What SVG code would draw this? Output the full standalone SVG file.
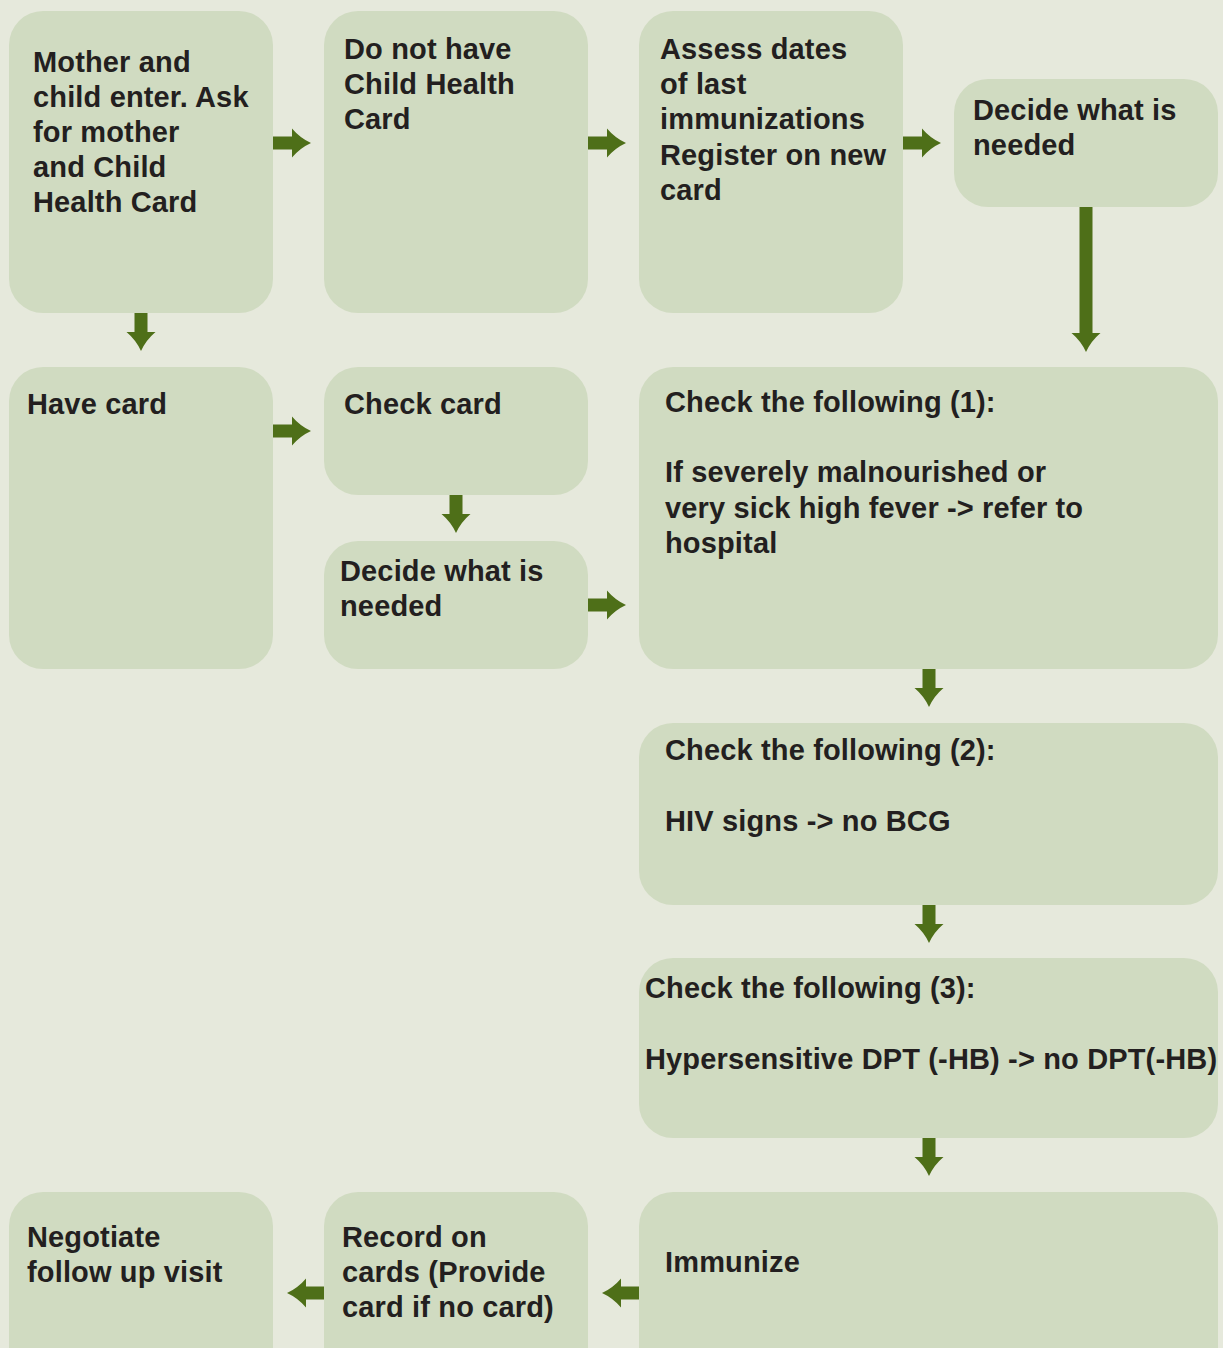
<svg xmlns="http://www.w3.org/2000/svg" width="1223" height="1348" viewBox="0 0 1223 1348">
<defs>
<style>
.box{fill:#d0dbc1;}
.t{font-family:"Liberation Sans",Arial,sans-serif;font-weight:bold;font-size:29px;letter-spacing:0.15px;fill:#231f20;}
.ar{fill:#4e6f18;}
</style>
<path id="a38" d="M0,-6.5 H19 V-14.5 Q27,-5 38,0 Q27,5 19,14.5 V6.5 H0 Z"/>
</defs>
<rect width="1223" height="1348" fill="#e6e9dc"/>
<g id="connectors" class="ar">
<use href="#a38" transform="translate(273,143)"/>
<use href="#a38" transform="translate(588,143)"/>
<use href="#a38" transform="translate(903,143)"/>
<use href="#a38" transform="translate(141,313) rotate(90)"/>
<path d="M0,-6.5 H126 V-14.5 Q134,-5 145,0 Q134,5 126,14.5 V6.5 H0 Z" transform="translate(1086,207) rotate(90)"/>
<use href="#a38" transform="translate(273,431)"/>
<use href="#a38" transform="translate(456,495) rotate(90)"/>
<use href="#a38" transform="translate(588,605)"/>
<use href="#a38" transform="translate(929,669) rotate(90)"/>
<use href="#a38" transform="translate(929,905) rotate(90)"/>
<use href="#a38" transform="translate(929,1138) rotate(90)"/>
<use href="#a38" transform="translate(640,1293) rotate(180)"/>
<use href="#a38" transform="translate(325,1293) rotate(180)"/>
</g>
<g id="n1"><rect class="box" x="9" y="11" width="264" height="302" rx="34"/>
<text class="t" x="33" y="72">Mother and</text><text class="t" x="33" y="107">child enter. Ask</text><text class="t" x="33" y="142">for mother</text><text class="t" x="33" y="177">and Child</text><text class="t" x="33" y="212">Health Card</text></g>
<g id="n2"><rect class="box" x="324" y="11" width="264" height="302" rx="34"/>
<text class="t" x="344" y="59">Do not have</text><text class="t" x="344" y="94">Child Health</text><text class="t" x="344" y="129">Card</text></g>
<g id="n3"><rect class="box" x="639" y="11" width="264" height="302" rx="34"/>
<text class="t" x="660" y="59">Assess dates</text><text class="t" x="660" y="94">of last</text><text class="t" x="660" y="129">immunizations</text><text class="t" x="660" y="165">Register on new</text><text class="t" x="660" y="200">card</text></g>
<g id="n4"><rect class="box" x="954" y="79" width="264" height="128" rx="34"/>
<text class="t" x="973" y="120">Decide what is</text><text class="t" x="973" y="155">needed</text></g>
<g id="n5"><rect class="box" x="9" y="367" width="264" height="302" rx="34"/>
<text class="t" x="27" y="414">Have card</text></g>
<g id="n6"><rect class="box" x="324" y="367" width="264" height="128" rx="34"/>
<text class="t" x="344" y="414">Check card</text></g>
<g id="n7"><rect class="box" x="324" y="541" width="264" height="128" rx="34"/>
<text class="t" x="340" y="581">Decide what is</text><text class="t" x="340" y="616">needed</text></g>
<g id="n8"><rect class="box" x="639" y="367" width="579" height="302" rx="34"/>
<text class="t" x="665" y="412">Check the following (1):</text><text class="t" x="665" y="482">If severely malnourished or</text><text class="t" x="665" y="518">very sick high fever -&gt; refer to</text><text class="t" x="665" y="553">hospital</text></g>
<g id="n9"><rect class="box" x="639" y="723" width="579" height="182" rx="34"/>
<text class="t" x="665" y="760">Check the following (2):</text><text class="t" x="665" y="831">HIV signs -&gt; no BCG</text></g>
<g id="n10"><rect class="box" x="639" y="958" width="579" height="180" rx="34"/>
<text class="t" x="645" y="998">Check the following (3):</text><text class="t" x="645" y="1069">Hypersensitive DPT (-HB) -&gt; no DPT(-HB)</text></g>
<g id="n11"><rect class="box" x="639" y="1192" width="579" height="200" rx="34"/>
<text class="t" x="665" y="1272">Immunize</text></g>
<g id="n12"><rect class="box" x="324" y="1192" width="264" height="200" rx="34"/>
<text class="t" x="342" y="1247">Record on</text><text class="t" x="342" y="1282">cards (Provide</text><text class="t" x="342" y="1317">card if no card)</text></g>
<g id="n13"><rect class="box" x="9" y="1192" width="264" height="200" rx="34"/>
<text class="t" x="27" y="1247">Negotiate</text><text class="t" x="27" y="1282">follow up visit</text></g>
</svg>
